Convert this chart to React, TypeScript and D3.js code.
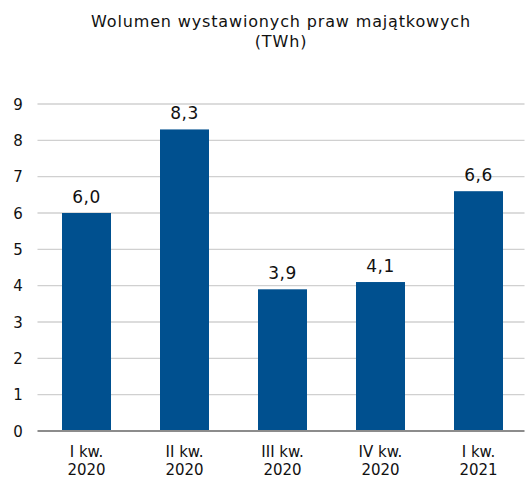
import React from "react";
import * as d3 from "d3";

const categories = ["I kw.|2020", "II kw.|2020", "III kw.|2020", "IV kw.|2020", "I kw.|2021"];
const values = [6.0, 8.3, 3.9, 4.1, 6.6];
const yTicks = [0, 1, 2, 3, 4, 5, 6, 7, 8, 9];
const titleLines = ["Wolumen wystawionych praw majątkowych", "(TWh)"];

export default function App() {
  const W = 529, H = 478;
  const left = 37.5, right = 527.5, top = 104, bottom = 431;
  const x = d3.scaleBand<string>().domain(categories).range([left, right]).paddingInner(0.5).paddingOuter(0.25);
  const y = d3.scaleLinear().domain([0, 9]).range([bottom, top]);
  const font = "Verdana, 'DejaVu Sans', sans-serif";
  return (
    <svg width={W} height={H} style={{ position: "absolute", left: 0, top: 0, background: "#fff" }}>
      {titleLines.map((t, i) => (
        <text key={i} x={281} y={27 + i * 20} textAnchor="middle" fontFamily={font} fontSize={16} letterSpacing={0.85} fill="#111">{t}</text>
      ))}
      {yTicks.map(t => (
        <g key={t}>
          {t > 0 && <line x1={left} x2={right - 3} y1={y(t)} y2={y(t)} stroke="#d0d0d0" strokeWidth={1.3} />}
          <text x={18} y={y(t) + 5.5} textAnchor="middle" fontFamily={font} fontSize={15} fill="#111">{t}</text>
        </g>
      ))}
      {categories.map((c, i) => {
        const bx = x(c)!;
        const bw = x.bandwidth();
        const v = values[i];
        const cx = bx + bw / 2;
        return (
          <g key={c}>
            <rect x={bx} y={y(v)} width={bw} height={y(0) - y(v)} fill="#00508f" />
            <text x={cx} y={y(v) - 10} textAnchor="middle" fontFamily={font} fontSize={17} letterSpacing={0.5} fill="#111">{v.toFixed(1).replace(".", ",")}</text>
            {c.split("|").map((l, j) => (
              <text key={j} x={cx} y={457 + j * 17.5} textAnchor="middle" fontFamily={font} fontSize={15} fill="#111">{l}</text>
            ))}
          </g>
        );
      })}
      <line x1={left} x2={right - 3} y1={bottom} y2={bottom} stroke="#8c8c8c" strokeWidth={2.2} />
    </svg>
  );
}
